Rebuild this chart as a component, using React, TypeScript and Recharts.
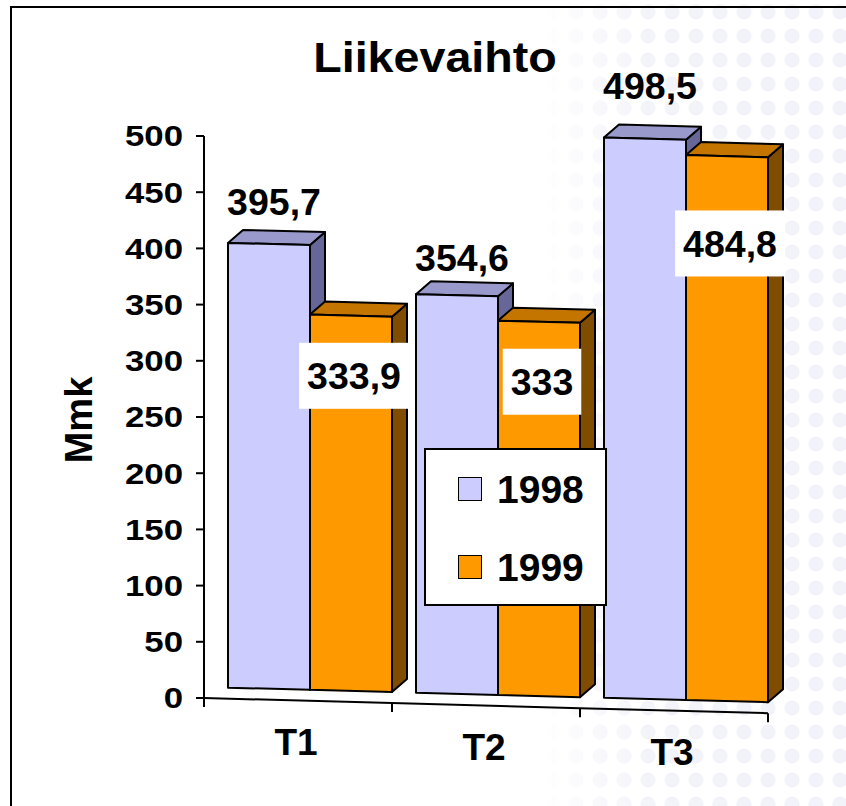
import * as React from 'react';
import { BarChart, Bar, XAxis, YAxis, Legend, LabelList } from 'recharts';

// Liikevaihto (Mmk) per kvartaali
const categories = ['T1', 'T2', 'T3'];
const sales1998 = [395.7, 354.6, 498.5];
const sales1999 = [333.9, 333, 484.8];
const yTicks = [0, 50, 100, 150, 200, 250, 300, 350, 400, 450, 500];

const data = categories.map((cat, i) => ({ cat, y1998: sales1998[i], y1999: sales1999[i] }));

// layout
const W = 846;
const H = 806;
const PLOT_LEFT = 204;
const PLOT_TOP = 136;
const PLOT_RIGHT = 768;
const PLOT_BOTTOM = 698;
const YAXIS_W = 120;
const XAXIS_H = 60;
const BAND = (PLOT_RIGHT - PLOT_LEFT) / categories.length;

// fake 3D: floor slant, lift of the bars off the front edge, box depth
const SLANT = 0.027;
const LIFT = 11;
const SHIFT_X = 12;
const DEPTH_X = 15;
const DEPTH_Y = 13;

const FONT = '"Liberation Sans", Arial, Helvetica, sans-serif';

const COLORS = {
  y1998: { front: '#CCCCFF', top: '#9999CC', side: '#666699' },
  y1999: { front: '#FF9900', top: '#C47500', side: '#7F4C00' },
};

const floorY = (px: number) => PLOT_BOTTOM + SLANT * (px - PLOT_LEFT);

function proj(px: number, py: number): [number, number] {
  const X = px + SHIFT_X;
  return [X, py - LIFT + SLANT * (X - PLOT_LEFT)];
}

const pts = (arr: [number, number][]) => arr.map((p) => `${p[0]},${p[1]}`).join(' ');
const back = (p: [number, number]): [number, number] => [p[0] + DEPTH_X, p[1] - DEPTH_Y];

function Box3D(props: any) {
  const { x, y, width, height, colors } = props;
  if (!height || height <= 0) return null;
  const a = proj(x, y);
  const b = proj(x + width, y);
  const c = proj(x + width, y + height);
  const d = proj(x, y + height);
  const edge = { stroke: '#000', strokeWidth: 2, strokeLinejoin: 'round' as const };
  return (
    <g>
      <polygon points={pts([b, back(b), back(c), c])} fill={colors.side} {...edge} />
      <polygon points={pts([a, back(a), back(b), b])} fill={colors.top} {...edge} />
      <polygon points={pts([a, b, c, d])} fill={colors.front} {...edge} />
    </g>
  );
}

const fmt = (v: number) => String(v).replace('.', ',');

function readBox(props: any) {
  const vb = props.viewBox && typeof props.viewBox.x === 'number' ? props.viewBox : props;
  return { x: Number(vb.x), y: Number(vb.y), width: Number(vb.width), height: Number(vb.height) };
}

// labels above the 1998 boxes
function Label1998(props: any) {
  const { x, y, width, height } = readBox(props);
  const cx = x + width / 2 + SHIFT_X + 5;
  const cy = y + height - height * 1.095 - LIFT + SLANT * (cx - PLOT_LEFT);
  return (
    <text x={cx} y={cy} dy="0.36em" textAnchor="middle" fontFamily={FONT} fontWeight="bold" fontSize={37.5} fill="#000">
      {fmt(props.value)}
    </text>
  );
}

// labels inside the 1999 boxes, on a white patch
function Label1999(props: any) {
  const { x, y, width, height } = readBox(props);
  const txt = fmt(props.value);
  const fs = 37.5;
  const tw = txt.split('').reduce((s, ch) => s + (ch === ',' ? 0.278 : 0.556), 0) * fs;
  const bw = tw + 16;
  const bh = 66;
  const cx = x + width / 2 + SHIFT_X + 3;
  const cy = y + height - height * 0.84 - LIFT + SLANT * (cx - PLOT_LEFT);
  return (
    <g>
      <rect x={cx - bw / 2} y={cy - bh / 2} width={bw} height={bh} fill="#fff" />
      <text x={cx} y={cy} dy="0.36em" textAnchor="middle" fontFamily={FONT} fontWeight="bold" fontSize={fs} fill="#000">
        {txt}
      </text>
    </g>
  );
}

function YTick(props: any) {
  const { x, y, payload } = props;
  return (
    <g transform={`translate(${x - 13},${y})`}>
      <text textAnchor="end" dy="0.36em" transform="scale(1.2,1)" fontFamily={FONT} fontWeight="bold" fontSize={29} fill="#000">
        {payload.value}
      </text>
      {payload.value === 0 && <line x1={21} y1={0} x2={21} y2={9} stroke="#000" strokeWidth={2} />}
    </g>
  );
}

function XTick(props: any) {
  const { x, payload } = props;
  const half = typeof payload.offset === 'number' && payload.offset > 0 ? payload.offset : BAND / 2;
  const x1 = x - half;
  const x2 = x + half;
  return (
    <g>
      <line x1={x1} y1={floorY(x1)} x2={x2} y2={floorY(x2)} stroke="#000" strokeWidth={2} />
      <line x1={x2} y1={floorY(x2)} x2={x2} y2={floorY(x2) + 9} stroke="#000" strokeWidth={2} />
      <text x={x - 2} y={floorY(x) + 54} textAnchor="middle" fontFamily={FONT} fontWeight="bold" fontSize={37} fill="#000">
        {payload.value}
      </text>
    </g>
  );
}

function AxisTitle() {
  const cx = 78;
  const cy = (PLOT_TOP + PLOT_BOTTOM) / 2 + 3;
  return (
    <text x={cx} y={cy} dy="0.36em" transform={`rotate(-90 ${cx} ${cy})`} textAnchor="middle" fontFamily={FONT} fontWeight="bold" fontSize={38} fill="#000">
      Mmk
    </text>
  );
}

function LegendBox({ payload }: any) {
  return (
    <div
      style={{
        width: 183,
        height: 158,
        boxSizing: 'border-box',
        border: '2px solid #000',
        background: '#fff',
        position: 'relative',
        fontFamily: FONT,
      }}
    >
      {(payload || []).map((e: any, i: number) => (
        <div key={e.value} style={{ position: 'absolute', left: 32, top: 27 + i * 78, height: 24, display: 'flex', alignItems: 'center' }}>
          <span style={{ display: 'inline-block', width: 24, height: 24, boxSizing: 'border-box', border: '1.5px solid #000', background: e.color }} />
          <span style={{ marginLeft: 15, fontSize: 39, fontWeight: 'bold', lineHeight: 1, color: '#000' }}>{e.value}</span>
        </div>
      ))}
    </div>
  );
}

export default function App() {
  return (
    <div style={{ position: 'absolute', left: 0, top: 0, width: W, height: H, overflow: 'hidden', background: '#fff' }}>
      {/* faint watermark on the right */}
      <div
        style={{
          position: 'absolute',
          left: 540,
          top: 0,
          width: W - 540,
          height: H,
          backgroundImage: 'radial-gradient(circle, rgba(200,200,232,0.55) 0 7px, transparent 8px)',
          backgroundSize: '24px 24px',
          WebkitMaskImage: 'linear-gradient(to right, transparent 0%, rgba(0,0,0,0.7) 35%, rgba(0,0,0,0.8) 100%)',
          maskImage: 'linear-gradient(to right, transparent 0%, rgba(0,0,0,0.7) 35%, rgba(0,0,0,0.8) 100%)',
          opacity: 0.55,
        }}
      />
      <div style={{ position: 'absolute', left: 0, top: 0 }}>
        <BarChart
          width={W}
          height={H}
          data={data}
          margin={{ top: PLOT_TOP, right: W - PLOT_RIGHT, left: PLOT_LEFT - YAXIS_W, bottom: H - PLOT_BOTTOM - XAXIS_H }}
          barGap={0}
          barSize={82}
        >
          <XAxis dataKey="cat" height={XAXIS_H} axisLine={false} tickLine={false} tickSize={0} tickMargin={0} tick={<XTick />} interval={0} />
          <YAxis
            width={YAXIS_W}
            domain={[0, 500]}
            ticks={yTicks}
            interval={0}
            axisLine={{ stroke: '#000', strokeWidth: 2 }}
            tickLine={{ stroke: '#000', strokeWidth: 2 }}
            tickSize={8}
            tickMargin={0}
            tick={<YTick />}
            label={<AxisTitle />}
          />
          <Legend
            layout="vertical"
            align="center"
            verticalAlign="middle"
            content={<LegendBox />}
            wrapperStyle={{ position: 'absolute', left: 424, top: 448, width: 183, height: 158 }}
          />
          <Bar dataKey="y1998" name="1998" fill={COLORS.y1998.front} isAnimationActive={false} shape={(p: any) => <Box3D {...p} colors={COLORS.y1998} />}>
            <LabelList dataKey="y1998" content={<Label1998 />} />
          </Bar>
          <Bar dataKey="y1999" name="1999" fill={COLORS.y1999.front} isAnimationActive={false} shape={(p: any) => <Box3D {...p} colors={COLORS.y1999} />}>
            <LabelList dataKey="y1999" content={<Label1999 />} />
          </Bar>
        </BarChart>
      </div>
      {/* frame */}
      <div style={{ position: 'absolute', left: 10, top: 6, width: 1000, height: 1000, borderLeft: '2px solid #000', borderTop: '2px solid #000', pointerEvents: 'none' }} />
      {/* title */}
      <div
        style={{
          position: 'absolute',
          left: 435,
          top: 37,
          transform: 'translateX(-50%) scaleX(1.11)',
          fontFamily: FONT,
          fontWeight: 'bold',
          fontSize: 42,
          lineHeight: 1,
          whiteSpace: 'nowrap',
          color: '#000',
        }}
      >
        Liikevaihto
      </div>
    </div>
  );
}
